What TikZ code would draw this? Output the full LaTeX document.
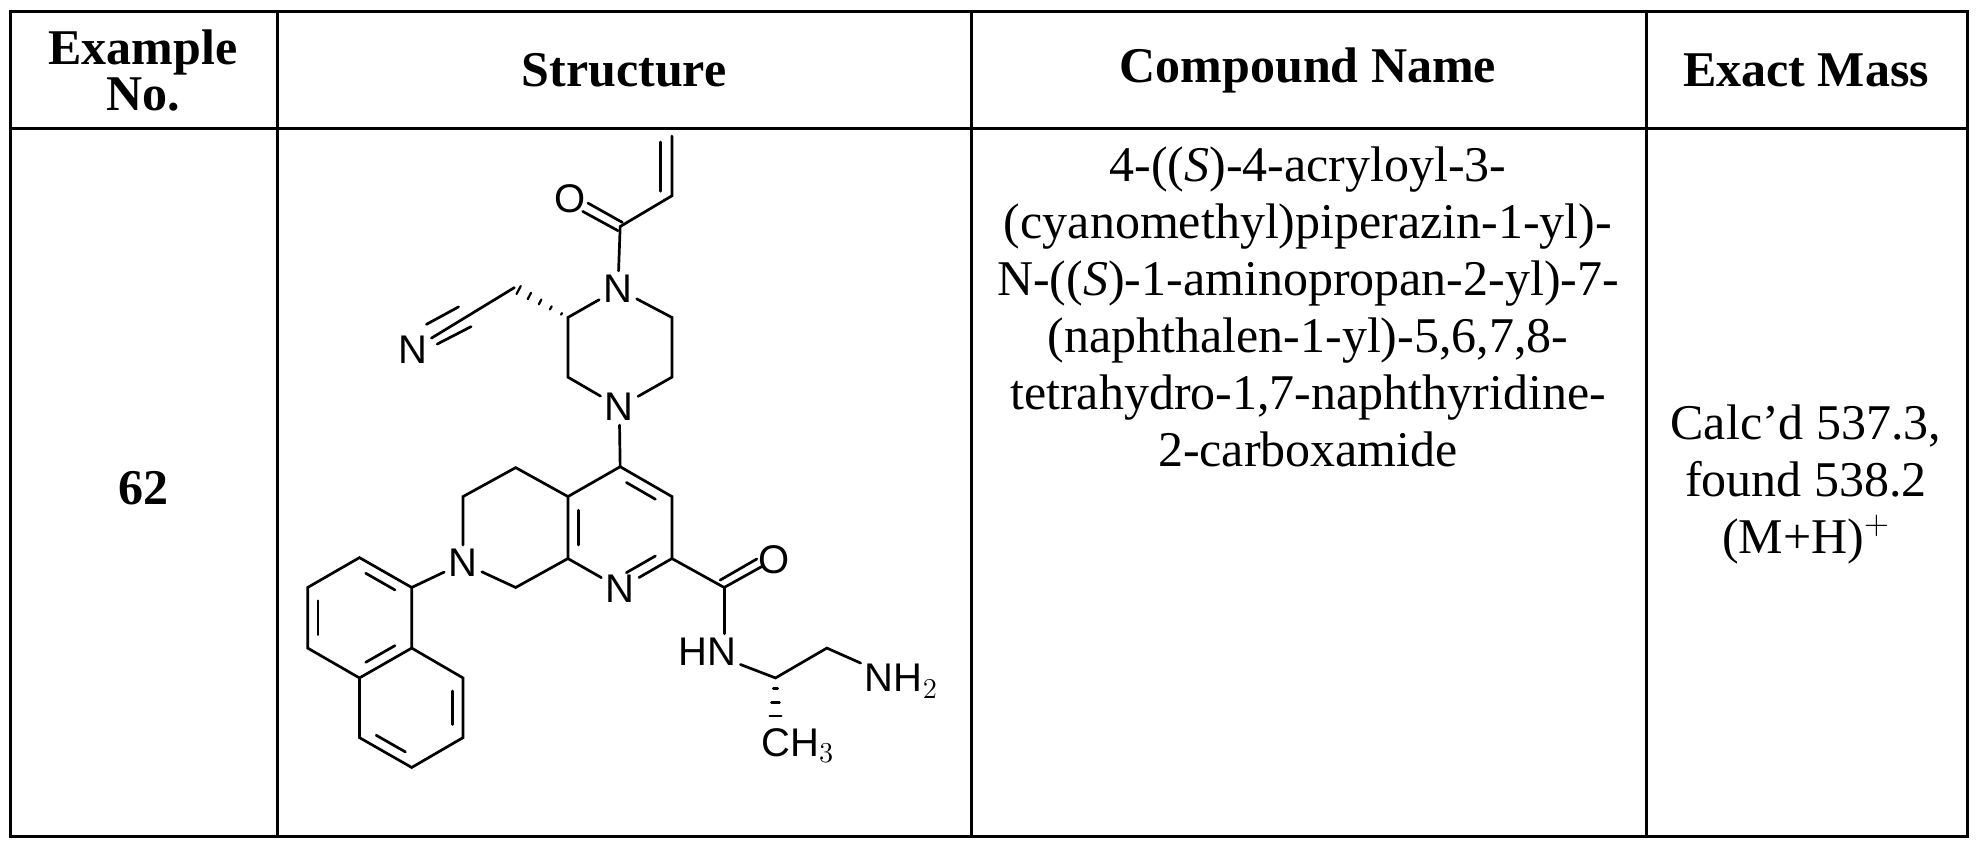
\documentclass[tikz,border=0pt]{standalone}
\usepackage{fontspec}
\setmainfont{Liberation Serif}
\newfontfamily\arialf{Liberation Sans}
\usetikzlibrary{calc}
\begin{document}
\begin{tikzpicture}[x=0.5pt,y=-0.5pt,
  grid/.style={line width=1.5pt},
  hd/.style={font=\fontsize{25}{24}\selectfont\bfseries, align=center},
  cell/.style={font=\fontsize{25}{28.5}\selectfont, align=center},
  atom/.style={font=\arialf\fontsize{20}{20}\selectfont, inner sep=1.5pt},
  bond/.style={line width=1.35pt, line cap=round}]
\useasboundingbox (0,0) rectangle (1977,848);
% table
\draw[grid] (10,11) rectangle (1967,836);
\draw[grid] (10,128) -- (1967,128);
\foreach \x in {277,971,1646} \draw[grid] (\x,11) -- (\x,836);
\node[hd] (h1) at (143,70) {Example\\[-1pt]No.};
\node[hd] (h2) at (624,70) {Structure};
\node[hd] (h3) at (1308,70) {Compound Name};
\node[hd] (h4) at (1806,70) {Exact Mass};
\node[cell,font=\fontsize{25}{24}\selectfont\bfseries] (ex) at (143,488) {62};
\node[cell] (name) at (1308,307) {4-((\textit{S})-4-acryloyl-3-\\(cyanomethyl)piperazin-1-yl)-\\N-((\textit{S})-1-aminopropan-2-yl)-7-\\(naphthalen-1-yl)-5,6,7,8-\\tetrahydro-1,7-naphthyridine-\\2-carboxamide};
\node[cell] (mass) at (1806,484) {Calc'd 537.3,\\found 538.2\\(M+H)$^+$};
% molecule
\begin{scope}[xshift=140pt,yshift=-60pt,x=0.2232pt,y=-0.2296pt,bond]
\coordinate (v1) at (878,35); \coordinate (v2) at (878,165); \coordinate (cc) at (762,232);
\node[atom] (O1) at (650,172) {O};
\node[atom] (N1) at (757,368) {N};
\coordinate (p2) at (878,430); \coordinate (p3) at (878,560);
\node[atom] (N4) at (760,625) {N};
\coordinate (p5) at (645,560); \coordinate (p6) at (645,430);
\coordinate (ch2) at (525,365);
\node[atom] (Nn) at (297,500) {N};
\coordinate (c4) at (762,755); \coordinate (c3) at (878,820); \coordinate (c2) at (878,955);
\node[atom] (Np) at (762,1020) {N}; \coordinate (Npc) at (762,1020);
\coordinate (c8a) at (645,955); \coordinate (c4a) at (645,820);
\coordinate (c5) at (528,757); \coordinate (c6) at (410,820);
\node[atom] (N7) at (410,965) {N};
\coordinate (c8) at (528,1018);
\coordinate (n1) at (295,1018); \coordinate (n2) at (178,953); \coordinate (n3) at (62,1018);
\coordinate (n4) at (62,1150); \coordinate (n4a) at (178,1215); \coordinate (n8a) at (295,1150);
\coordinate (n8) at (410,1215); \coordinate (n7) at (410,1345); \coordinate (n6) at (295,1410);
\coordinate (n5) at (178,1345);
\coordinate (am) at (995,1018);
\node[atom] (O2) at (1107,958) {O};
\node[atom] (NH) at (957,1158) {HN};
\coordinate (ca) at (1110,1215); \coordinate (cb) at (1225,1150);
\node[atom] (NH2) at (1392,1222) {NH$_2$};
\node[atom] (CH3) at (1160,1362) {CH$_3$};
\coordinate (pc) at (762,888); \coordinate (ac) at (178,1084); \coordinate (bc) at (295,1280);
% acryloyl
\draw (v1) -- (v2) -- (cc) -- (N1);
\draw (853,48) -- (853,155);
\draw (767,223) -- (690,181);
\draw (757,241) -- (678,199);
% piperazine
\draw (N1) -- (p2) -- (p3) -- (N4) -- (p5) -- (p6) -- (N1);
\draw (N4) -- (c4);
% cyanomethyl
\foreach \t/\w in {0.12/2,0.32/4,0.52/6,0.72/8,0.92/10}
  \draw[line width=1.1pt] ($(p6)!\t!(ch2) + \w*(0.476,-0.879)$) -- ($(p6)!\t!(ch2) - \w*(0.476,-0.879)$);
\draw (ch2) -- (Nn);
\draw (328,445) -- (400,407);
\draw (352,488) -- (428,450);
% pyridine
\draw (c4) -- (c3) -- (c2) -- (Np) -- (c8a) -- (c4a) -- (c4);
\foreach \a/\b in {c4/c3,c2/Npc,c4a/c8a}
  \draw ($(\a)!0.15!(\b)!0.2!(pc)$) -- ($(\b)!0.15!(\a)!0.2!(pc)$);
% saturated ring
\draw (c4a) -- (c5) -- (c6) -- (N7) -- (c8) -- (c8a);
% naphthyl
\draw (N7) -- (n1);
\draw (n1) -- (n2) -- (n3) -- (n4) -- (n4a) -- (n8a) -- (n1);
\draw (n8a) -- (n8) -- (n7) -- (n6) -- (n5) -- (n4a);
\foreach \a/\b/\c in {n1/n2/ac,n3/n4/ac,n4a/n8a/ac,n8/n7/bc,n6/n5/bc}
  \draw ($(\a)!0.15!(\b)!0.2!(\c)$) -- ($(\b)!0.15!(\a)!0.2!(\c)$);
% amide
\draw (c2) -- (am);
\draw (am) -- (1080,972);
\draw (986,1002) -- (1068,956);
\draw (am) -- (am |- NH.north);
\draw (NH) -- (ca) -- (cb) -- (NH2);
\foreach \y/\w in {1238/5,1268/9,1298/13}
  \draw[line width=1.3pt] (1110-\w,\y) -- (1110+\w,\y);
\end{scope}
\end{tikzpicture}
\end{document}
